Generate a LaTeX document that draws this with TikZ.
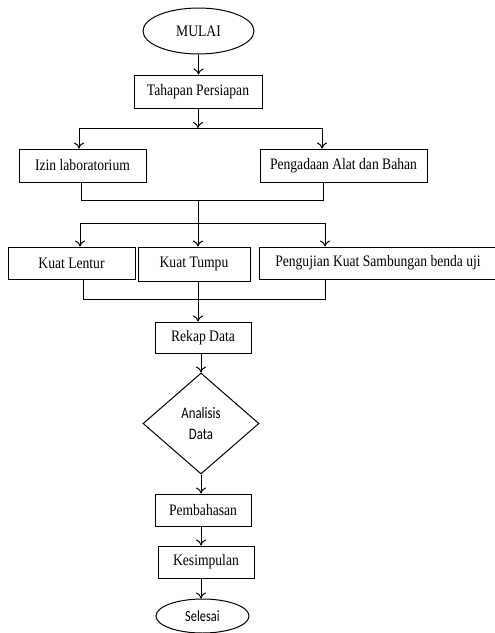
\documentclass[tikz,border=0pt]{standalone}
\usepackage{fontspec}
\setmainfont{Liberation Serif}[FakeStretch=0.85]
\newfontfamily\calibri{Carlito}[FakeStretch=0.8]
\usetikzlibrary{shapes.geometric,arrows.meta}
\begin{document}
\begin{tikzpicture}[x=1pt,y=-1pt,
    box/.style={draw,line width=1pt,inner sep=0pt,font=\fontsize{16}{18}\selectfont},
    ujung/.style={draw,ellipse,line width=1pt,inner sep=0pt},
    keputusan/.style={draw,diamond,line width=1pt,inner sep=0pt,align=center,
        font=\calibri\fontsize{16}{21}\selectfont},
    panah/.style={-{To[length=6pt,width=10pt]},line width=1pt},
    garis/.style={line width=1pt}]
  \useasboundingbox (0,0) rectangle (495,633);

  % nodes
  \node[ujung,minimum width=111pt,minimum height=46pt,font=\fontsize{16}{18}\selectfont] (mulai) at (198.5,31) {MULAI};
  \node[box,minimum width=128pt,minimum height=33pt] (tahap) at (198,91.5) {Tahapan Persiapan};
  \node[box,minimum width=127pt,minimum height=33pt] (izin) at (82.5,165.5) {Izin laboratorium};
  \node[box,minimum width=167pt,minimum height=33pt] (adaan) at (343.5,165.5) {Pengadaan Alat dan Bahan};
  \node[box,minimum width=127pt,minimum height=32pt] (lentur) at (71.5,263) {Kuat Lentur};
  \node[box,minimum width=112pt,minimum height=34pt] (tumpu) at (194,264) {Kuat Tumpu};
  \node[box,minimum width=238pt,minimum height=32pt] (uji) at (378,263) {Pengujian Kuat Sambungan benda uji};
  \node[box,minimum width=96pt,minimum height=31pt] (rekap) at (203,337.5) {Rekap Data};
  \node[keputusan,minimum width=116pt,minimum height=101pt] (analisis) at (201,423.5) {Analisis\\Data};
  \node[box,minimum width=96pt,minimum height=32pt] (bahas) at (203,510) {Pembahasan};
  \node[box,minimum width=96pt,minimum height=32pt] (simpul) at (206,562) {Kesimpulan};
  \node[ujung,minimum width=93pt,minimum height=34pt,font=\calibri\fontsize{15.5}{18}\selectfont] (selesai) at (202.5,616) {Selesai};

  % junctions
  \coordinate (a1) at (198,128);
  \coordinate (a2) at (79,128);
  \coordinate (a3) at (322,128);
  \coordinate (b1) at (81,200);
  \coordinate (b2) at (323,200);
  \coordinate (b3) at (198,200);
  \coordinate (c1) at (198,223);
  \coordinate (c2) at (80,223);
  \coordinate (c3) at (325,223);
  \coordinate (d1) at (83,299);
  \coordinate (d2) at (325,299);

  % connectors
  \draw[panah] (mulai.south) -- (mulai.south |- tahap.north);
  \draw[panah] (tahap.south) -- (a1);
  \draw[garis] (a2) -- (a3);
  \draw[panah] (a2) -- (a2 |- izin.north);
  \draw[panah] (a3) -- (a3 |- adaan.north);
  \draw[garis] (b1 |- izin.south) -- (b1) -- (b2) -- (b2 |- adaan.south);
  \draw[garis] (b3) -- (c1);
  \draw[garis] (c2) -- (c3);
  \draw[panah] (c2) -- (c2 |- lentur.north);
  \draw[panah] (c1) -- (c1 |- tumpu.north);
  \draw[panah] (c3) -- (c3 |- uji.north);
  \draw[garis] (d1 |- lentur.south) -- (d1) -- (d2) -- (d2 |- uji.south);
  \draw[panah] (tumpu.south -| c1) -- (c1 |- rekap.north);
  \draw[panah] (rekap.south -| analisis.north) -- (analisis.north);
  \draw[panah] (analisis.south) -- (analisis.south |- bahas.north);
  \draw[panah] (bahas.south -| analisis.south) -- (analisis.south |- simpul.north);
  \draw[panah] (simpul.south -| analisis.south) -- (analisis.south |- selesai.north);
\end{tikzpicture}
\end{document}
